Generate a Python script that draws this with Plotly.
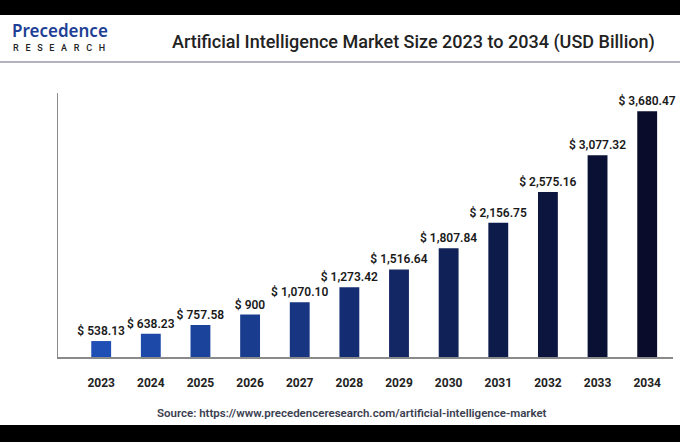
import plotly.graph_objects as go

# Data
years = ["2023", "2024", "2025", "2026", "2027", "2028",
         "2029", "2030", "2031", "2032", "2033", "2034"]
market_size = [538.13, 638.23, 757.58, 900, 1070.10, 1273.42,
               1516.64, 1807.84, 2156.75, 2575.16, 3077.32, 3680.47]

# bar colours go from royal blue to near-black navy
bar_colors = ["#1f4fb4", "#1d49a8", "#1b439b", "#193c8e", "#173581", "#142d72",
              "#122764", "#0f2157", "#0d1b4a", "#0b153e", "#0a1034", "#090c2b"]


def fmt(v):
    if float(v).is_integer():
        return f"$ {v:,.0f}"
    return f"$ {v:,.2f}"


labels = [fmt(v) for v in market_size]

W, H = 680, 442
L, R, T, B = 58, 7, 93, 85
pw, ph = W - L - R, H - T - B


def px_x(x):
    return (x - L) / pw


def px_y(y):
    return (H - B - y) / ph


fig = go.Figure(go.Bar(
    x=years, y=market_size,
    marker=dict(color=bar_colors, line=dict(width=0)),
    text=labels, textposition="outside", cliponaxis=False,
    constraintext="none",
    textfont=dict(family="Roboto", size=12, color="#1a1a1a", weight=600),
    width=0.4,
))

fig.update_layout(
    width=W, height=H,
    margin=dict(l=L, r=R, t=T, b=B),
    paper_bgcolor="black", plot_bgcolor="white",
    showlegend=False,
    font=dict(family="Roboto"),
)

fig.update_xaxes(
    range=[-0.87, 11.52], showline=True, linecolor="#8a8a8a", linewidth=1.5,
    ticks="outside", ticklen=14, tickcolor="rgba(0,0,0,0)",
    tickfont=dict(family="Roboto", size=12, color="#222222", weight=700),
    showgrid=False, fixedrange=True,
)
fig.update_yaxes(
    range=[320, 3930], showline=True, linecolor="#8a8a8a", linewidth=1,
    showticklabels=False, showgrid=False, zeroline=False, ticks="",
)

# white canvas between the black bars, plus the header rule
fig.add_shape(type="rect", xref="paper", yref="paper", layer="below",
              x0=px_x(0), x1=px_x(W), y0=px_y(425), y1=px_y(15),
              fillcolor="white", line=dict(width=0))
fig.add_shape(type="line", xref="paper", yref="paper",
              x0=px_x(0), x1=px_x(W), y0=px_y(62), y1=px_y(62),
              line=dict(color="#9a9aaa", width=1.5))

# logo
fig.add_annotation(xref="paper", yref="paper", x=px_x(10), y=px_y(30),
                   xanchor="left", yanchor="middle", showarrow=False,
                   text="Precedence",
                   font=dict(family="Noto Sans", size=17, color="#1e3f95", weight=600))
sp = "&nbsp;" * 3
fig.add_annotation(xref="paper", yref="paper", x=px_x(11), y=px_y(48),
                   xanchor="left", yanchor="middle", showarrow=False,
                   text=sp.join("RESEARCH"),
                   font=dict(family="Roboto", size=9, color="#222222", weight=500))

# title
fig.add_annotation(xref="paper", yref="paper", x=px_x(657), y=px_y(42),
                   xanchor="right", yanchor="middle", showarrow=False,
                   text="Artificial Intelligence Market Size 2023 to 2034 (USD Billion)",
                   font=dict(family="Roboto", size=18, color="#222222", weight=500))

# source line
fig.add_annotation(xref="paper", yref="paper", x=px_x(352), y=px_y(413),
                   xanchor="center", yanchor="middle", showarrow=False,
                   text="Source: https://www.precedenceresearch.com/artificial-intelligence-market",
                   font=dict(family="Roboto", size=11.5, color="#3b4050", weight=600))

fig.write_html("out.html", config={"displayModeBar": False},
               post_script="document.body.style.margin='0px';")
